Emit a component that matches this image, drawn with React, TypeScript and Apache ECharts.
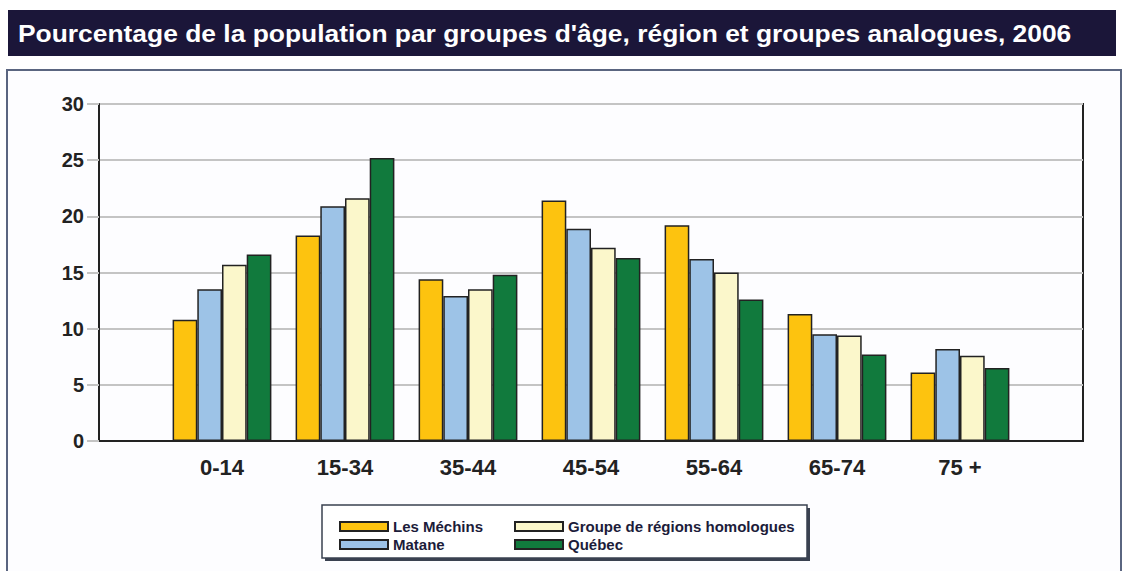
import React, { useEffect, useRef } from "react";
import * as echarts from "echarts";

const categories = ["", "0-14", "15-34", "35-44", "45-54", "55-64", "65-74", "75 +", ""];
const lesMechins = [null, 10.8, 18.3, 14.4, 21.4, 19.2, 11.3, 6.1, null];
const matane = [null, 13.5, 20.9, 12.9, 18.9, 16.2, 9.5, 8.2, null];
const groupe = [null, 15.7, 21.6, 13.5, 17.2, 15.0, 9.4, 7.6, null];
const quebec = [null, 16.6, 25.2, 14.8, 16.3, 12.6, 7.7, 6.5, null];
const yTicks = { min: 0, max: 30, interval: 5 };

const seriesNames = ["Les Méchins", "Matane", "Groupe de régions homologues", "Québec"];
const seriesColors = ["#fdc30f", "#9dc3e7", "#fbf7cb", "#117a3d"];
const seriesData = [lesMechins, matane, groupe, quebec];

export default function App() {
  const ref = useRef<HTMLDivElement>(null);
  useEffect(() => {
    document.body.style.margin = "0";
    const chart = echarts.init(ref.current!, null, { renderer: "svg" });
    const legendText = {
      color: "#1c1c3a",
      fontSize: 15,
      fontWeight: "bold" as const,
      fontFamily: "Liberation Sans, Arial, sans-serif",
    };
    chart.setOption({
      animation: false,
      backgroundColor: "#ffffff",
      graphic: [
        {
          type: "rect",
          z: -10,
          shape: { x: 8, y: 10, width: 1108, height: 46 },
          style: { fill: "#1b1639" },
        },
        {
          type: "text",
          z: -9,
          x: 18,
          y: 33,
          scaleX: 1.1,
          style: {
            text: "Pourcentage de la population par groupes d'âge, région et groupes analogues, 2006",
            fill: "#ffffff",
            font: "bold 24px 'Liberation Sans', Arial, sans-serif",
            verticalAlign: "middle",
          },
        },
        {
          type: "rect",
          z: -10,
          shape: { x: 7, y: 70, width: 1114, height: 510 },
          style: { fill: "#fdfdff", stroke: "#5a6580", lineWidth: 2 },
        },
        {
          type: "rect",
          z: 1,
          shape: { x: 325, y: 508, width: 485, height: 53 },
          style: { fill: "#3a4150" },
        },
        {
          type: "rect",
          z: 1,
          shape: { x: 322, y: 505, width: 485, height: 53 },
          style: { fill: "#ffffff", stroke: "#3a4150", lineWidth: 1.5 },
        },
      ],
      legend: [
        {
          data: ["Les Méchins", "Matane"],
          orient: "vertical",
          left: 334,
          top: 514,
          itemWidth: 48,
          itemHeight: 9,
          itemGap: 3,
          icon: "rect",
          textStyle: legendText,
          selectedMode: false,
        },
        {
          data: ["Groupe de régions homologues", "Québec"],
          orient: "vertical",
          left: 509,
          top: 514,
          itemWidth: 48,
          itemHeight: 9,
          itemGap: 3,
          icon: "rect",
          textStyle: legendText,
          selectedMode: false,
        },
      ],
      grid: {
        left: 99,
        right: 40,
        top: 104,
        bottom: 130,
        show: true,
        borderColor: "#222222",
        borderWidth: 2,
        containLabel: false,
      },
      xAxis: {
        type: "category",
        data: categories,
        boundaryGap: false,
        axisLine: { lineStyle: { color: "#222222", width: 2 } },
        axisTick: { show: false },
        splitLine: { show: false },
        axisLabel: {
          color: "#222222",
          fontSize: 22,
          fontWeight: "bold",
          fontFamily: "Liberation Sans, Arial, sans-serif",
          margin: 15,
          interval: 0,
        },
      },
      yAxis: {
        type: "value",
        min: yTicks.min,
        max: yTicks.max,
        interval: yTicks.interval,
        axisLine: { show: true, lineStyle: { color: "#222222", width: 2 } },
        axisTick: { show: true, length: 12, lineStyle: { color: "#c4c4c4", width: 2 } },
        splitLine: { lineStyle: { color: "#c4c4c4", width: 2 } },
        axisLabel: {
          color: "#222222",
          fontSize: 20,
          fontWeight: "bold",
          fontFamily: "Liberation Sans, Arial, sans-serif",
          margin: 15,
        },
      },
      series: seriesNames.map((name, i) => ({
        name,
        type: "bar",
        data: seriesData[i],
        barWidth: 24.7,
        barGap: "0%",
        itemStyle: { color: seriesColors[i], borderColor: "#222222", borderWidth: 1.5 },
      })),
    });
    return () => chart.dispose();
  }, []);
  return <div ref={ref} style={{ width: 1123, height: 571 }} />;
}
